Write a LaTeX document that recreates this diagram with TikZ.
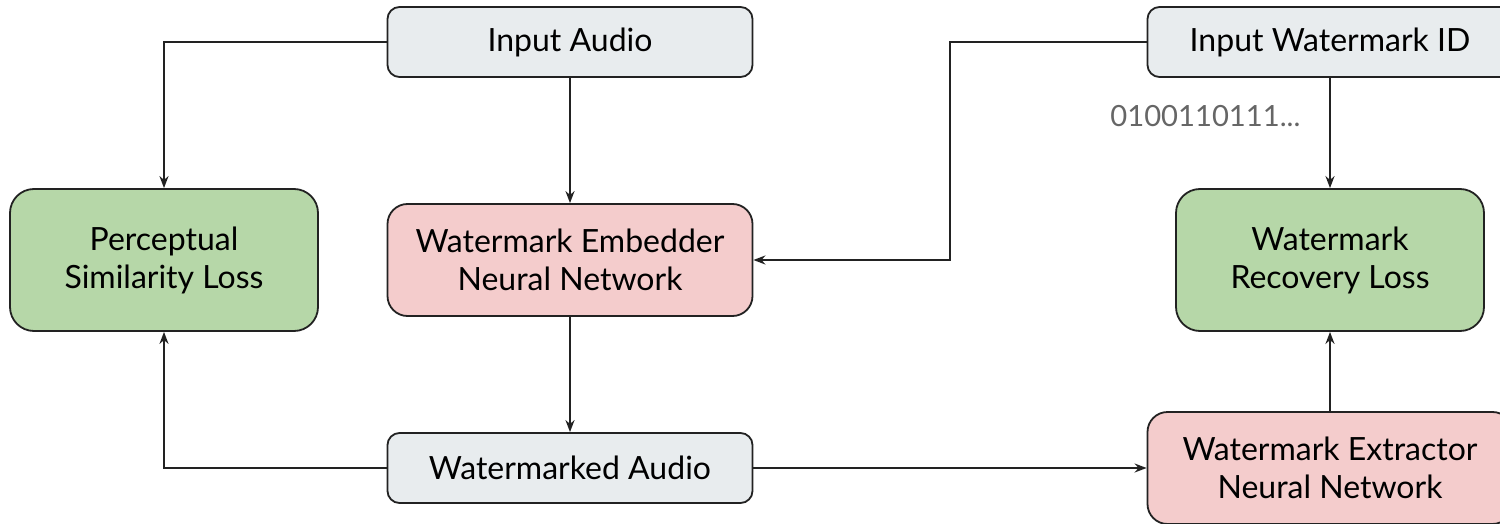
\documentclass[tikz,border=0pt]{standalone}
\usepackage{fontspec}
\setmainfont{Lato}
\usetikzlibrary{arrows.meta}
\definecolor{inbox}{HTML}{E8ECEE}
\definecolor{lossbox}{HTML}{B6D7A8}
\definecolor{netbox}{HTML}{F4CCCC}
\definecolor{edgecol}{HTML}{222222}
\definecolor{bitcol}{HTML}{666666}
\tikzset{
  base/.style={draw=edgecol, line width=0.9pt, align=center, inner sep=0pt,
    font=\fontsize{16}{19}\selectfont, text=black},
  iobox/.style={base, fill=inbox, rounded corners=6pt,
    minimum width=182.5pt, minimum height=35pt},
  losbox/.style={base, fill=lossbox, rounded corners=12pt,
    minimum width=154pt, minimum height=71pt},
  nnbox/.style={base, fill=netbox, rounded corners=10pt,
    minimum width=182.5pt, minimum height=56pt},
  link/.style={draw=edgecol, line width=1pt, -{Stealth[length=6pt,width=4.5pt]}},
}
\begin{document}
\begin{tikzpicture}[x=0.5pt, y=-0.5pt]
  \useasboundingbox (0,0) rectangle (1500,524);
  % inputs
  \node[iobox] (audio) at (570,42) {Input Audio};
  \node[iobox] (wmid) at (1330,42) {Input Watermark ID};
  \node[font=\fontsize{14.6}{17}\selectfont, text=bitcol, anchor=west, inner sep=0pt] (bits) at (1110,116) {0100110111...};
  % losses
  \node[losbox] (percep) at (164,260) {Perceptual\\Similarity Loss};
  \node[losbox] (recov) at (1330,260) {Watermark\\Recovery Loss};
  % networks
  \node[nnbox] (embed) at (570,260) {Watermark Embedder\\Neural Network};
  \node[nnbox] (extract) at (1330,468) {Watermark Extractor\\Neural Network};
  % output of the embedder
  \node[iobox] (marked) at (570,468) {Watermarked Audio};
  % connectors
  \coordinate (c1) at (164,42);
  \coordinate (c2) at (950,42);
  \coordinate (c3) at (950,260);
  \coordinate (c4) at (164,468);
  \draw[link] (audio.west) -- (c1) -- (percep.north);
  \draw[link] (audio.south) -- (embed.north);
  \draw[link] (wmid.west) -- (c2) -- (c3) -- (embed.east);
  \draw[link] (wmid.south) -- (recov.north);
  \draw[link] (embed.south) -- (marked.north);
  \draw[link] (marked.west) -- (c4) -- (percep.south);
  \draw[link] (marked.east) -- (extract.west);
  \draw[link] (extract.north) -- (recov.south);
\end{tikzpicture}
\end{document}
